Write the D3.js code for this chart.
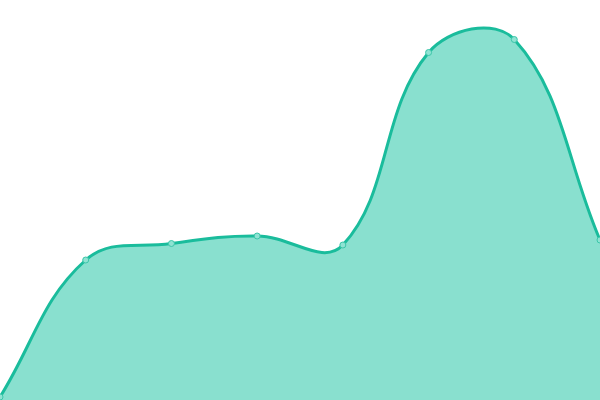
<!DOCTYPE html>
<html>
<head>
<meta charset="utf-8">
<script src="https://cdn.jsdelivr.net/npm/d3@7"></script>
<style>
  html, body { margin: 0; padding: 0; background: #fff; }
</style>
</head>
<body>
<div id="chart"></div>
<script>
// Data
let categories = ["A", "B", "C", "D", "E", "F", "G", "H"];
let values = [3, 140, 156.5, 164, 155, 347.5, 360.5, 160];

let svgWidth = 600;
let svgHeight = 400;
let tension = 0.4;

// Distance weighted spline (control points scaled by neighbour distances)
function SplineCurve(context) { this._context = context; }
SplineCurve.prototype = {
    areaStart: function() { this._line = 0; },
    areaEnd: function() { this._line = NaN; },
    lineStart: function() { this._pts = []; },
    point: function(x, y) { this._pts.push([+x, +y]); },
    lineEnd: function() {
        let p = this._pts, n = p.length, ctx = this._context;
        if (n) {
            if (this._line) ctx.lineTo(p[0][0], p[0][1]);
            else ctx.moveTo(p[0][0], p[0][1]);
        }
        let cp = p.map((cur, i) => {
            let prev = p[Math.max(i - 1, 0)], next = p[Math.min(i + 1, n - 1)];
            let d01 = Math.hypot(cur[0] - prev[0], cur[1] - prev[1]);
            let d12 = Math.hypot(next[0] - cur[0], next[1] - cur[1]);
            let s01 = d01 / (d01 + d12), s12 = d12 / (d01 + d12);
            if (isNaN(s01)) s01 = 0;
            if (isNaN(s12)) s12 = 0;
            let fa = tension * s01, fb = tension * s12;
            let clamp = (v, lo, hi) => Math.max(lo, Math.min(hi, v));
            return {
                prev: [clamp(cur[0] - fa * (next[0] - prev[0]), 0, svgWidth),
                       clamp(cur[1] - fa * (next[1] - prev[1]), 0, svgHeight)],
                next: [clamp(cur[0] + fb * (next[0] - prev[0]), 0, svgWidth),
                       clamp(cur[1] + fb * (next[1] - prev[1]), 0, svgHeight)]
            };
        });
        for (let i = 1; i < n; i++) {
            ctx.bezierCurveTo(cp[i - 1].next[0], cp[i - 1].next[1],
                cp[i].prev[0], cp[i].prev[1], p[i][0], p[i][1]);
        }
        if (this._line) ctx.closePath();
        this._line = 1 - this._line;
    }
};
let splineCurve = context => new SplineCurve(context);

let svg = d3.select("#chart")
    .append("svg")
    .attr("width", svgWidth)
    .attr("height", svgHeight);

let data = categories.map((c, i) => ({ cat: c, value: values[i] }));

let xScale = d3.scalePoint()
    .domain(categories)
    .range([0, svgWidth]);

let yScale = d3.scaleLinear()
    .domain([0, 400])
    .range([svgHeight, 0]);

let area = d3.area()
    .x(d => xScale(d.cat))
    .y0(svgHeight)
    .y1(d => yScale(d.value))
    .curve(splineCurve);

let line = d3.line()
    .x(d => xScale(d.cat))
    .y(d => yScale(d.value))
    .curve(splineCurve);

svg.append("path")
    .datum(data)
    .attr("d", area)
    .attr("fill", "#89e0cf");

svg.append("path")
    .datum(data)
    .attr("d", line)
    .attr("fill", "none")
    .attr("stroke", "#1abc9c")
    .attr("stroke-width", 3);

svg.selectAll("circle")
    .data(data)
    .enter()
    .append("circle")
    .attr("cx", d => xScale(d.cat))
    .attr("cy", d => yScale(d.value))
    .attr("r", 3)
    .attr("fill", "#8fe3d3")
    .attr("stroke", "#3cc6a9")
    .attr("stroke-width", 1);
</script>
</body>
</html>
